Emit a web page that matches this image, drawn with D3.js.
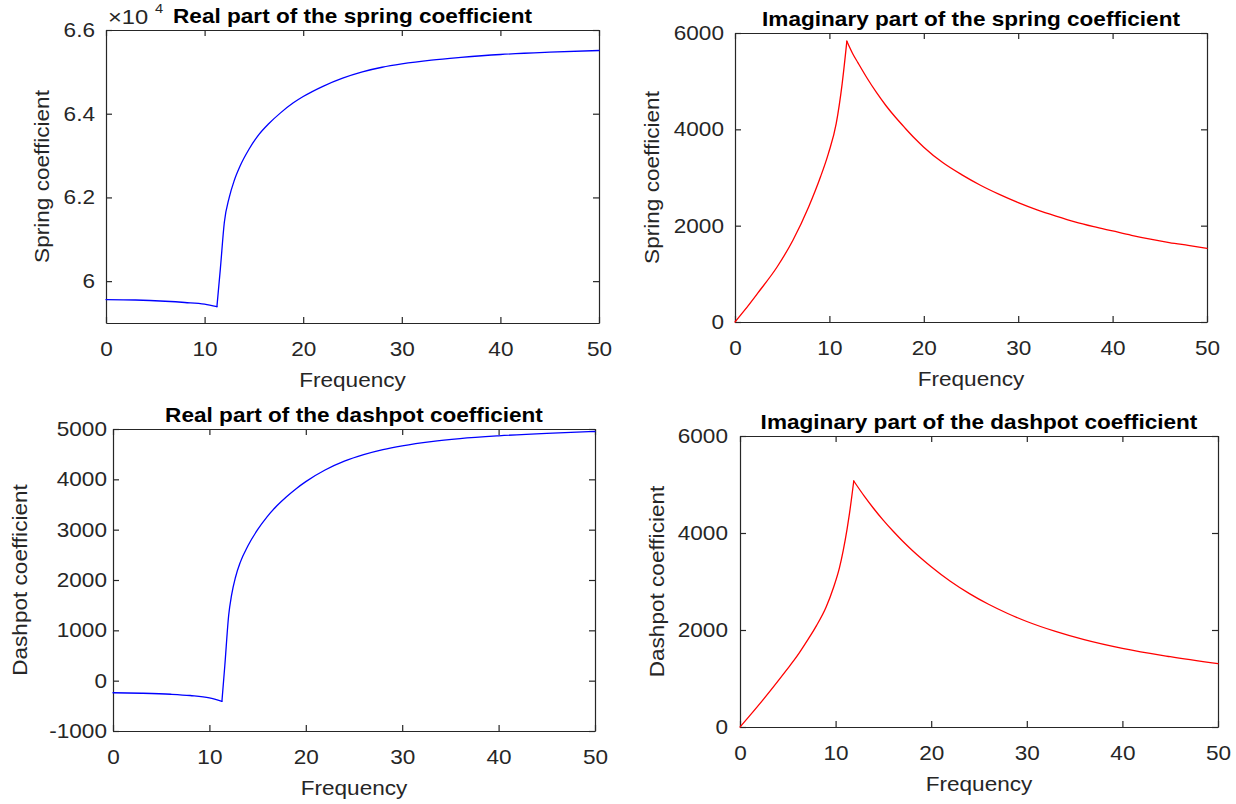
<!DOCTYPE html>
<html>
<head>
<meta charset="utf-8">
<script src="https://cdn.jsdelivr.net/npm/d3@7"></script>
<style>
  html, body { margin: 0; padding: 0; background: #ffffff; }
  svg { display: block; }
  text { font-family: "Liberation Sans", Arial, Helvetica, sans-serif; }
</style>
</head>
<body>
<svg id="chart" width="1236" height="804"></svg>
<script>
// ---------------- DATA ----------------
const xTicks = [0, 10, 20, 30, 40, 50];

// Real part of the spring coefficient (values in N/m)
const realSpringFreq = [0, 3, 6, 8, 10, 11.25, 11.6, 12.0, 12.5, 13.0, 13.6, 14.5, 15.5, 16.5, 17.7, 19, 20, 22, 24, 26, 28, 30, 33, 36, 40, 45, 50];
const realSpringVals = [59560, 59550, 59520, 59490, 59450, 59390, 60300, 61400, 62000, 62400, 62750, 63150, 63500, 63760, 64020, 64260, 64410, 64655, 64850, 65000, 65110, 65190, 65280, 65345, 65415, 65470, 65510];
const realSpringYTicks = [60000, 62000, 64000, 66000];
const realSpringYLabels = ["6", "6.2", "6.4", "6.6"];

// Imaginary part of the spring coefficient
const imagSpringFreq = [0, 1, 2.41, 4.49, 6.15, 7.81, 9.06, 9.89, 10.72, 11.35, 11.85, 12.5, 13, 14, 15, 16, 17, 18, 19, 20, 22, 24, 26, 28, 30, 32, 34, 36, 38, 40, 42, 44, 46, 48, 50];
const imagSpringVals = [0, 240, 600, 1152, 1703, 2393, 3014, 3497, 4117, 4945, 5830, 5560, 5390, 5060, 4760, 4490, 4250, 4030, 3820, 3630, 3310, 3060, 2840, 2650, 2480, 2330, 2200, 2080, 1980, 1890, 1800, 1720, 1650, 1590, 1530];
const imagSpringYTicks = [0, 2000, 4000, 6000];
const imagSpringYLabels = ["0", "2000", "4000", "6000"];

// Real part of the dashpot coefficient
const realDashFreq = [0, 3, 6, 8, 10, 11.3, 11.6, 12.0, 12.3, 12.7, 13.2, 14, 15, 16, 17, 18, 19, 20, 22, 24, 26, 28, 30, 33, 36, 40, 45, 50];
const realDashVals = [-240, -250, -270, -295, -340, -410, 300, 1300, 1700, 2050, 2350, 2680, 3000, 3260, 3475, 3655, 3815, 3955, 4185, 4360, 4490, 4590, 4665, 4750, 4810, 4865, 4915, 4950];
const realDashYTicks = [-1000, 0, 1000, 2000, 3000, 4000, 5000];
const realDashYLabels = ["-1000", "0", "1000", "2000", "3000", "4000", "5000"];

// Imaginary part of the dashpot coefficient
const imagDashFreq = [0, 1, 2.36, 4.84, 6, 7, 8, 9, 9.8, 10.4, 10.8, 11.2, 11.45, 11.9, 13, 14, 15, 16, 17, 18, 19, 20, 22, 24, 26, 28, 30, 33, 36, 40, 45, 50];
const imagDashVals = [0, 230, 550, 1168, 1470, 1770, 2090, 2470, 2887, 3280, 3643, 4080, 4400, 5072, 4760, 4500, 4260, 4040, 3835, 3645, 3470, 3305, 3005, 2750, 2530, 2340, 2175, 1970, 1800, 1620, 1450, 1306];
const imagDashYTicks = [0, 2000, 4000, 6000];
const imagDashYLabels = ["0", "2000", "4000", "6000"];

const titles = [
  "Real part of the spring coefficient",
  "Imaginary part of the spring coefficient",
  "Real part of the dashpot coefficient",
  "Imaginary part of the dashpot coefficient"
];
const xLabel = "Frequency";
const yLabels = ["Spring coefficient", "Spring coefficient", "Dashpot coefficient", "Dashpot coefficient"];

// ---------------- LAYOUT ----------------
const SX = 1.13;         // horizontal stretch of glyphs in reference
const FS = 20;           // font size
const axisColor = "#262626";

const panels = [
  { box: [106, 599, 30, 323], yDomain: [59000, 66000], yTicks: realSpringYTicks, yTickLabels: realSpringYLabels,
    freq: realSpringFreq, vals: realSpringVals, color: "#0000ff", title: titles[0], ylab: yLabels[0], ylabOff: 57.5, ytGap: 11, exponent: "4" },
  { box: [735, 1207, 33, 322], yDomain: [0, 6000], yTicks: imagSpringYTicks, yTickLabels: imagSpringYLabels,
    freq: imagSpringFreq, vals: imagSpringVals, color: "#ff0000", title: titles[1], ylab: yLabels[1], ylabOff: 76.5, ytGap: 11 },
  { box: [113, 595, 429, 731], yDomain: [-1000, 5000], yTicks: realDashYTicks, yTickLabels: realDashYLabels,
    freq: realDashFreq, vals: realDashVals, color: "#0000ff", title: titles[2], ylab: yLabels[2], ylabOff: 86.5, ytGap: 6 },
  { box: [740, 1218, 436, 727], yDomain: [0, 6000], yTicks: imagDashYTicks, yTickLabels: imagDashYLabels,
    freq: imagDashFreq, vals: imagDashVals, color: "#ff0000", title: titles[3], ylab: yLabels[3], ylabOff: 76, ytGap: 12 }
];

const svg = d3.select("#chart");
svg.append("rect").attr("width", 1236).attr("height", 804).attr("fill", "#fff");

function stretchTexts(sel) {
  sel.each(function () {
    const t = d3.select(this);
    const x = +t.attr("x") || 0, y = +t.attr("y") || 0;
    t.attr("x", 0).attr("y", 0).attr("transform", `translate(${x},${y}) scale(${SX},1)`);
  });
}

// split a series at its interior extremum (cusp) so each monotone piece is smoothed separately
function splitAtCusp(data) {
  for (let i = 1; i < data.length - 1; i++) {
    const a = data[i].v - data[i - 1].v, b = data[i + 1].v - data[i].v;
    if (a * b < 0 && (Math.abs(b) > 500 || Math.abs(a) > 500)) {
      return [data.slice(0, i + 1), data.slice(i)];
    }
  }
  return [data];
}

panels.forEach(p => {
  const [L, R, T, B] = p.box;
  const x = d3.scaleLinear().domain([0, 50]).range([L, R]);
  const y = d3.scaleLinear().domain(p.yDomain).range([B, T]);
  const g = svg.append("g");

  // bottom axis
  const gb = g.append("g").attr("transform", `translate(0,${B})`)
    .call(d3.axisBottom(x).tickValues(xTicks).tickFormat(d3.format("d")).tickSizeInner(-6).tickSizeOuter(0).tickPadding(18.8));
  // top axis (mirror ticks)
  g.append("g").attr("transform", `translate(0,${T})`)
    .call(d3.axisTop(x).tickValues(xTicks).tickFormat("").tickSizeInner(-6).tickSizeOuter(0));
  // left axis
  const gl = g.append("g").attr("transform", `translate(${L},0)`)
    .call(d3.axisLeft(y).tickValues(p.yTicks).tickFormat((d, i) => p.yTickLabels[i]).tickSizeInner(-6).tickSizeOuter(0).tickPadding(p.ytGap));
  // right axis (mirror ticks)
  g.append("g").attr("transform", `translate(${R},0)`)
    .call(d3.axisRight(y).tickValues(p.yTicks).tickFormat("").tickSizeInner(-6).tickSizeOuter(0));

  g.selectAll(".domain").attr("stroke", axisColor).attr("stroke-width", 1.2);
  g.selectAll(".tick line").attr("stroke", axisColor).attr("stroke-width", 1.2);
  g.selectAll(".tick text").attr("fill", axisColor).attr("font-size", FS)
    .attr("font-family", '"Liberation Sans", Arial, sans-serif');
  stretchTexts(gb.selectAll(".tick text"));
  stretchTexts(gl.selectAll(".tick text"));

  // curve
  const data = p.freq.map((f, i) => ({ f, v: p.vals[i] }));
  const line = d3.line().x(d => x(d.f)).y(d => y(d.v)).curve(d3.curveMonotoneX);
  splitAtCusp(data).forEach(seg => {
    g.append("path").datum(seg)
      .attr("fill", "none").attr("stroke", p.color).attr("stroke-width", 1.3)
      .attr("stroke-linejoin", "round").attr("stroke-linecap", "round")
      .attr("d", line);
  });

  // title
  g.append("text")
    .attr("transform", `translate(${(L + R) / 2},${T - 7.5}) scale(${SX},1)`)
    .attr("text-anchor", "middle").attr("font-size", FS).attr("font-weight", "bold")
    .attr("fill", "#000").text(p.title);

  // x label
  g.append("text")
    .attr("transform", `translate(${(L + R) / 2},${B + 64}) scale(${SX},1)`)
    .attr("text-anchor", "middle").attr("font-size", FS).attr("fill", axisColor).text(xLabel);

  // y label
  g.append("text")
    .attr("transform", `translate(${L - p.ylabOff},${(T + B) / 2}) rotate(-90) scale(${SX},1)`)
    .attr("text-anchor", "middle").attr("font-size", FS).attr("fill", axisColor).text(p.ylab);

  // exponent label
  if (p.exponent) {
    g.append("text")
      .attr("transform", `translate(${L + 2},${T - 6}) scale(${SX},1)`)
      .attr("font-size", FS + 1).attr("fill", axisColor).text("\u00d710");
    g.append("text")
      .attr("transform", `translate(${L + 49},${T - 17}) scale(${SX},1)`)
      .attr("font-size", 13).attr("fill", axisColor).text(p.exponent);
  }
});
</script>
</body>
</html>
